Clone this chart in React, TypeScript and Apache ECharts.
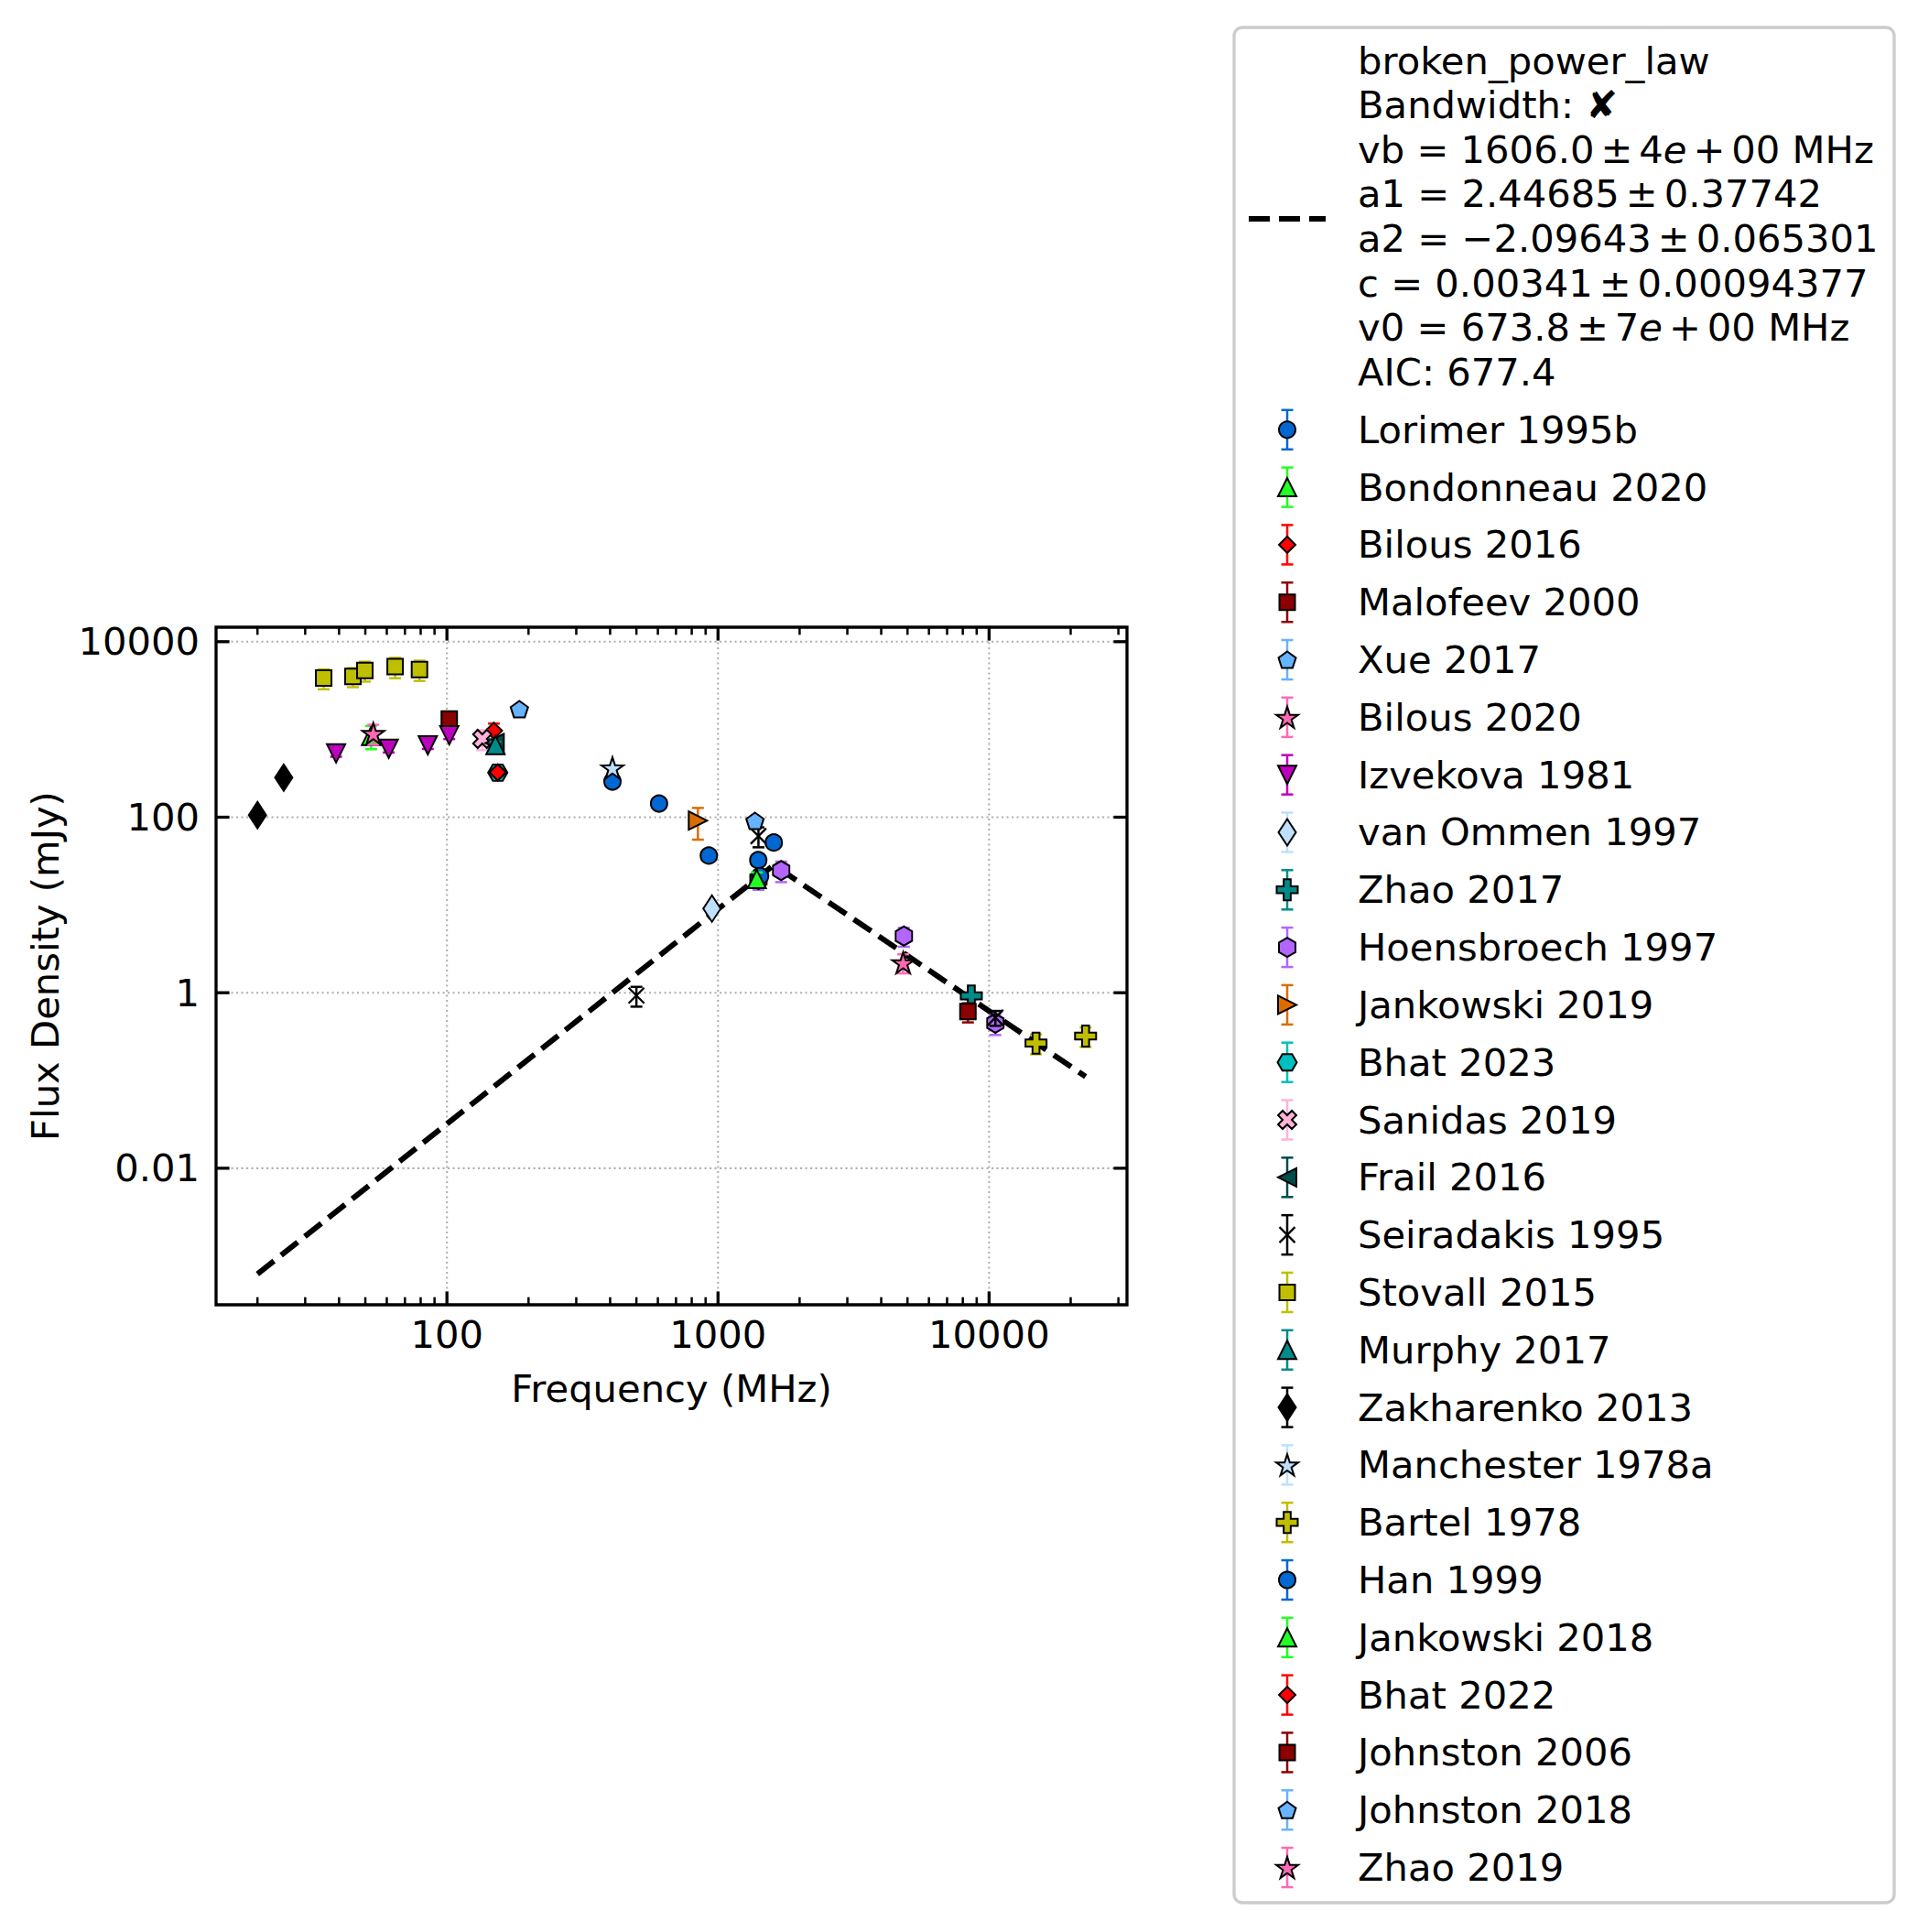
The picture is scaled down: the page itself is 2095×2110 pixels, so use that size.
import React, { useEffect, useRef } from 'react';
import * as echarts from 'echarts';

const FONT = '"DejaVu Sans", "Liberation Sans", sans-serif';
const FS = 41.7;
const W = 2095;
const H = 2110;

// Axis extents (log-space, 5% padding around the plotted data)
const X_MIN = 14.07;
const X_MAX = 32270;
const Y_MIN = 2.78e-4;
const Y_MAX = 14620;

// Tick positions and labels
const xMajorTicks = [100, 1000, 10000];
const xTickLabels = ['100', '1000', '10000'];
const xMinorTicks = [
  20, 30, 40, 50, 60, 70, 80, 90,
  200, 300, 400, 500, 600, 700, 800, 900,
  2000, 3000, 4000, 5000, 6000, 7000, 8000, 9000,
  20000, 30000,
];
const yMajorTicks = [0.01, 1, 100, 10000];
const yTickLabels = ['0.01', '1', '100', '10000'];

// Broken power-law fit: start, break frequency, end (MHz, mJy)
const fitFreq = [20, 1606, 22700];
const fitFlux = [6.24e-4, 28.56, 0.1108];

// narrow spacing around binary operators, as in typeset math
const OP = '\u2006';
const fitLegendLines = [
  'broken_power_law',
  'Bandwidth: \u2718',
  `vb = 1606.0${OP}\u00b1${OP}4{i|e}${OP}+${OP}00 MHz`,
  `a1 = 2.44685${OP}\u00b1${OP}0.37742`,
  `a2 = \u22122.09643${OP}\u00b1${OP}0.065301`,
  `c = 0.00341${OP}\u00b1${OP}0.00094377`,
  `v0 = 673.8${OP}\u00b1${OP}7{i|e}${OP}+${OP}00 MHz`,
  'AIC: 677.4',
];

// Measurements: [frequency MHz, flux density mJy, uncertainty mJy]
const lorimer1995b = [[408, 255, 15], [606, 143, 8], [925, 36.5, 2.5], [1408, 32.4, 2], [1606, 51.4, 3]];
const bondonneau2020 = [[52.5, 845, 250]];
const bilous2016 = [[149, 966, 200]];
const malofeev2000 = [[102, 1312, 150]];
const xue2017 = [[185, 1706, 120]];
const bilous2020 = [[53.5, 900, 230]];
const izvekova1981 = [[39, 533, 45], [61, 601, 55], [85, 659, 60], [102, 857, 80]];
const vanOmmen1997 = [[950, 9.1, 1.0]];
const zhao2017 = [[8600, 0.92, 0.08]];
const hoensbroech1997 = [[1410, 19.5, 4.6], [1710, 24.7, 6.5], [4850, 4.42, 1.08], [10550, 0.45, 0.12]];
const jankowski2019 = [[843, 91.5, 36]];
const bhat2023 = [[154, 322, 25]];
const sanidas2019 = [[135, 780, 200]];
const frail2016 = [[150, 700, 70]];
const seiradakis1995 = [[500, 0.93, 0.236], [1410, 61, 15.6], [10550, 0.52, 0.1]];
const stovall2015 = [[35.1, 3855, 985], [45, 4018, 985], [49.8, 4711, 1200], [64.4, 5188, 1350], [79.2, 4822, 1250]];
const murphy2017 = [[151, 665, 60]];
const zakharenko2013 = [[20, 105.7, 10], [25, 282, 28]];
const manchester1978a = [[408, 365, 30]];
const bartel1978 = [[14900, 0.267, 0.068], [22700, 0.321, 0.08]];
const han1999 = [[1430, 21.3, 2]];
const jankowski2018 = [[1390, 19.7, 3.8]];
const bhat2022 = [[154, 324, 30]];
const johnston2006 = [[8356, 0.609, 0.15]];
const johnston2018 = [[1369, 91, 6]];
const zhao2019 = [[4820, 2.2, 0.54]];

const datasets = [
  { name: 'Lorimer 1995b', points: lorimer1995b, marker: 'circle', color: '#0068d0' },
  { name: 'Bondonneau 2020', points: bondonneau2020, marker: 'triangleUp', color: '#22ff22' },
  { name: 'Bilous 2016', points: bilous2016, marker: 'diamond', color: '#ff0000' },
  { name: 'Malofeev 2000', points: malofeev2000, marker: 'square', color: '#8b0000' },
  { name: 'Xue 2017', points: xue2017, marker: 'pentagon', color: '#66b3ff' },
  { name: 'Bilous 2020', points: bilous2020, marker: 'star', color: '#ff69b4' },
  { name: 'Izvekova 1981', points: izvekova1981, marker: 'triangleDown', color: '#bf00bf' },
  { name: 'van Ommen 1997', points: vanOmmen1997, marker: 'thinDiamond', color: '#bfdfff' },
  { name: 'Zhao 2017', points: zhao2017, marker: 'plus', color: '#008b8b' },
  { name: 'Hoensbroech 1997', points: hoensbroech1997, marker: 'hexagon', color: '#b266ff' },
  { name: 'Jankowski 2019', points: jankowski2019, marker: 'triangleRight', color: '#db6d00' },
  { name: 'Bhat 2023', points: bhat2023, marker: 'hexagon2', color: '#00bfbf' },
  { name: 'Sanidas 2019', points: sanidas2019, marker: 'xFilled', color: '#ffb3d9' },
  { name: 'Frail 2016', points: frail2016, marker: 'triangleLeft', color: '#004c4c' },
  { name: 'Seiradakis 1995', points: seiradakis1995, marker: 'x', color: '#000000' },
  { name: 'Stovall 2015', points: stovall2015, marker: 'square', color: '#bfbf00' },
  { name: 'Murphy 2017', points: murphy2017, marker: 'triangleUp', color: '#008b8b' },
  { name: 'Zakharenko 2013', points: zakharenko2013, marker: 'thinDiamond', color: '#000000' },
  { name: 'Manchester 1978a', points: manchester1978a, marker: 'star', color: '#bfdfff' },
  { name: 'Bartel 1978', points: bartel1978, marker: 'plus', color: '#bfbf00' },
  { name: 'Han 1999', points: han1999, marker: 'circle', color: '#0068d0' },
  { name: 'Jankowski 2018', points: jankowski2018, marker: 'triangleUp', color: '#22ff22' },
  { name: 'Bhat 2022', points: bhat2022, marker: 'diamond', color: '#ff0000' },
  { name: 'Johnston 2006', points: johnston2006, marker: 'square', color: '#8b0000' },
  { name: 'Johnston 2018', points: johnston2018, marker: 'pentagon', color: '#66b3ff' },
  { name: 'Zhao 2019', points: zhao2019, marker: 'star', color: '#ff69b4' },
];

// Marker outlines (any scale; normalised to their bounding box)
const SHAPES: Record<string, number[][]> = {
  triangleUp: [[0, -1], [1, 1], [-1, 1]],
  triangleDown: [[-1, -1], [1, -1], [0, 1]],
  triangleRight: [[-1, -1], [1, 0], [-1, 1]],
  triangleLeft: [[1, -1], [-1, 0], [1, 1]],
  diamond: [[0, -1], [1, 0], [0, 1], [-1, 0]],
  thinDiamond: [[0, -1], [1, 0], [0, 1], [-1, 0]],
  square: [[-1, -1], [1, -1], [1, 1], [-1, 1]],
  pentagon: [[0, -1], [0.951, -0.309], [0.588, 0.809], [-0.588, 0.809], [-0.951, -0.309]],
  star: [
    [0, -1], [0.2245, -0.309], [0.951, -0.309], [0.3633, 0.118], [0.588, 0.809],
    [0, 0.382], [-0.588, 0.809], [-0.3633, 0.118], [-0.951, -0.309], [-0.2245, -0.309],
  ],
  hexagon: [[0, -1], [0.866, -0.5], [0.866, 0.5], [0, 1], [-0.866, 0.5], [-0.866, -0.5]],
  hexagon2: [[-1, 0], [-0.5, -0.866], [0.5, -0.866], [1, 0], [0.5, 0.866], [-0.5, 0.866]],
  plus: [[-1, -3], [1, -3], [1, -1], [3, -1], [3, 1], [1, 1], [1, 3], [-1, 3], [-1, 1], [-3, 1], [-3, -1], [-1, -1]],
  xFilled: [[-1, -2], [0, -1], [1, -2], [2, -1], [1, 0], [2, 1], [1, 2], [0, 1], [-1, 2], [-2, 1], [-1, 0], [-2, -1]],
};

const SIZES: Record<string, [number, number]> = {
  circle: [18, 18],
  triangleUp: [20, 20],
  triangleDown: [20, 20],
  triangleRight: [20, 20],
  triangleLeft: [20, 20],
  diamond: [18, 18],
  thinDiamond: [19, 29],
  square: [17, 17],
  pentagon: [19, 18],
  star: [24, 23],
  hexagon: [18, 21],
  hexagon2: [21, 18],
  plus: [23, 23],
  xFilled: [20, 20],
  x: [17, 17],
};

function normPoints(key: string): number[][] {
  const pts = SHAPES[key];
  const xs = pts.map((p) => p[0]);
  const ys = pts.map((p) => p[1]);
  const x0 = Math.min(...xs), x1 = Math.max(...xs);
  const y0 = Math.min(...ys), y1 = Math.max(...ys);
  return pts.map((p) => [(p[0] - x0) / (x1 - x0) - 0.5, (p[1] - y0) / (y1 - y0) - 0.5]);
}

function symbolFor(key: string): string {
  if (key === 'circle') return 'circle';
  if (key === 'x') return 'path://M0,0 L100,100 M100,0 L0,100';
  const pts = normPoints(key);
  return 'path://M' + pts.map((p) => `${((p[0] + 0.5) * 100).toFixed(2)},${((p[1] + 0.5) * 100).toFixed(2)}`).join(' L') + ' Z';
}

function legendMarker(key: string, color: string, cx: number, cy: number): any {
  const [w, h] = SIZES[key];
  const st = { fill: color, stroke: '#000', lineWidth: 2 };
  if (key === 'circle') return { type: 'circle', shape: { cx, cy, r: w / 2 }, style: st };
  if (key === 'x') {
    const s = { stroke: '#000', lineWidth: 2.3 };
    return {
      type: 'group',
      children: [
        { type: 'line', shape: { x1: cx - w / 2, y1: cy - h / 2, x2: cx + w / 2, y2: cy + h / 2 }, style: s },
        { type: 'line', shape: { x1: cx + w / 2, y1: cy - h / 2, x2: cx - w / 2, y2: cy + h / 2 }, style: s },
      ],
    };
  }
  return {
    type: 'polygon',
    shape: { points: normPoints(key).map((p) => [cx + p[0] * w, cy + p[1] * h]) },
    style: st,
  };
}

const CAP = 6.5;
const EB_WIDTH = 2.5;

function errorBarRenderer(color: string) {
  return (params: any, api: any) => {
    const f = api.value(0);
    const s = api.value(1);
    const e = api.value(2);
    const hi = api.coord([f, s + e]);
    const lo = api.coord([f, Math.max(s - e, s * 0.02)]);
    const st = { stroke: color, lineWidth: EB_WIDTH };
    return {
      type: 'group',
      children: [
        { type: 'line', shape: { x1: hi[0], y1: hi[1], x2: lo[0], y2: lo[1] }, style: st },
        { type: 'line', shape: { x1: hi[0] - CAP, y1: hi[1], x2: hi[0] + CAP, y2: hi[1] }, style: st },
        { type: 'line', shape: { x1: lo[0] - CAP, y1: lo[1], x2: lo[0] + CAP, y2: lo[1] }, style: st },
      ],
    };
  };
}

const MAJOR_LEN = 14.6;
const MINOR_LEN = 8.3;

function xTickRenderer(params: any, api: any) {
  const cs = params.coordSys;
  const px = api.coord([api.value(0), api.value(1)])[0];
  const major = api.value(2) === 1;
  const len = major ? MAJOR_LEN : MINOR_LEN;
  const st = { stroke: '#000', lineWidth: major ? 3.3 : 2.5 };
  const bottom = cs.y + cs.height;
  return {
    type: 'group',
    children: [
      { type: 'line', shape: { x1: px, y1: bottom, x2: px, y2: bottom - len }, style: st },
      { type: 'line', shape: { x1: px, y1: cs.y, x2: px, y2: cs.y + len }, style: st },
    ],
  };
}

function yTickRenderer(params: any, api: any) {
  const cs = params.coordSys;
  const py = api.coord([api.value(0), api.value(1)])[1];
  const st = { stroke: '#000', lineWidth: 3.3 };
  const right = cs.x + cs.width;
  return {
    type: 'group',
    children: [
      { type: 'line', shape: { x1: cs.x, y1: py, x2: cs.x + MAJOR_LEN, y2: py }, style: st },
      { type: 'line', shape: { x1: right, y1: py, x2: right - MAJOR_LEN, y2: py }, style: st },
    ],
  };
}

const GRID_STYLE = { stroke: '#b0b0b0', lineWidth: 2.1, lineDash: [2.1, 3.4] };

function xGridRenderer(params: any, api: any) {
  const cs = params.coordSys;
  const px = api.coord([api.value(0), api.value(1)])[0];
  return { type: 'line', shape: { x1: px, y1: cs.y, x2: px, y2: cs.y + cs.height }, style: GRID_STYLE };
}

function yGridRenderer(params: any, api: any) {
  const cs = params.coordSys;
  const py = api.coord([api.value(0), api.value(1)])[1];
  return { type: 'line', shape: { x1: cs.x, y1: py, x2: cs.x + cs.width, y2: py }, style: GRID_STYLE };
}

function labelFor(v: number, ticks: number[], labels: string[]): string {
  const i = ticks.findIndex((t) => Math.abs(Math.log10(t) - Math.log10(v)) < 1e-6);
  return i >= 0 ? labels[i] : '';
}

function buildLegend(): any[] {
  const left = 1348;
  const top = 30;
  const handleX = 1406;
  const textX = 1483;
  const elements: any[] = [
    {
      type: 'rect',
      shape: { x: left, y: top, width: 721, height: 2048, r: 9 },
      style: { fill: '#ffffff', stroke: '#cccccc', lineWidth: 3.3 },
    },
    {
      type: 'line',
      shape: { x1: 1364, y1: 239, x2: 1448, y2: 239 },
      style: { stroke: '#000', lineWidth: 6, lineDash: [23, 10] },
    },
  ];
  fitLegendLines.forEach((line, k) => {
    elements.push({
      type: 'text',
      x: textX,
      y: 66 + 48.6 * k,
      style: {
        text: line,
        fill: '#000',
        font: `${FS}px ${FONT}`,
        align: 'left',
        verticalAlign: 'middle',
        rich: {
          i: { fontStyle: 'italic', fontSize: FS, fontFamily: FONT, fill: '#000' },
        },
      },
    });
  });
  datasets.forEach((d, k) => {
    const cy = 469.3 + 62.81 * k;
    const st = { stroke: d.color, lineWidth: EB_WIDTH };
    elements.push(
      { type: 'line', shape: { x1: handleX, y1: cy - 21.5, x2: handleX, y2: cy + 21.5 }, style: st },
      { type: 'line', shape: { x1: handleX - CAP, y1: cy - 21.5, x2: handleX + CAP, y2: cy - 21.5 }, style: st },
      { type: 'line', shape: { x1: handleX - CAP, y1: cy + 21.5, x2: handleX + CAP, y2: cy + 21.5 }, style: st },
      legendMarker(d.marker, d.color, handleX, cy),
      {
        type: 'text',
        x: textX,
        y: cy,
        style: { text: d.name, fill: '#000', font: `${FS}px ${FONT}`, align: 'left', verticalAlign: 'middle' },
      },
    );
  });
  return elements;
}

function buildOption(): any {
  const series: any[] = [
    {
      type: 'custom',
      name: 'x grid',
      z: 1,
      silent: true,
      encode: { x: 0, y: 1 },
      data: xMajorTicks.map((v) => [v, Y_MIN]),
      renderItem: xGridRenderer,
    },
    {
      type: 'custom',
      name: 'y grid',
      z: 1,
      silent: true,
      encode: { x: 0, y: 1 },
      data: yMajorTicks.map((v) => [X_MIN, v]),
      renderItem: yGridRenderer,
    },
    {
      type: 'line',
      name: 'broken_power_law',
      z: 5,
      silent: true,
      symbol: 'none',
      showSymbol: false,
      data: fitFreq.map((f, i) => [f, fitFlux[i]]),
      lineStyle: { color: '#000', width: 6, type: [23, 10] },
    },
  ];

  datasets.forEach((d, i) => {
    series.push({
      type: 'custom',
      name: d.name + ' errors',
      z: 10 + 2 * i,
      silent: true,
      encode: { x: 0, y: 1 },
      data: d.points,
      renderItem: errorBarRenderer(d.color),
    });
    series.push({
      type: 'scatter',
      name: d.name,
      z: 11 + 2 * i,
      silent: true,
      data: d.points.map((p) => [p[0], p[1]]),
      symbol: symbolFor(d.marker),
      symbolSize: SIZES[d.marker],
      itemStyle: {
        color: d.marker === 'x' ? 'rgba(0,0,0,0)' : d.color,
        borderColor: '#000',
        borderWidth: d.marker === 'x' ? 2.3 : 2,
        opacity: 1,
      },
      emphasis: { disabled: true },
    });
  });

  series.push(
    {
      type: 'custom',
      name: 'x ticks',
      z: 200,
      silent: true,
      encode: { x: 0, y: 1 },
      data: xMajorTicks.map((v) => [v, Y_MIN, 1]).concat(xMinorTicks.map((v) => [v, Y_MIN, 0])),
      renderItem: xTickRenderer,
    },
    {
      type: 'custom',
      name: 'y ticks',
      z: 200,
      silent: true,
      encode: { x: 0, y: 1 },
      data: yMajorTicks.map((v) => [X_MIN, v]),
      renderItem: yTickRenderer,
    },
  );

  return {
    animation: false,
    backgroundColor: '#ffffff',
    textStyle: { fontFamily: FONT },
    grid: {
      left: 236,
      top: 685,
      width: 995,
      height: 740,
      show: true,
      borderColor: '#000',
      borderWidth: 3.3,
      backgroundColor: 'rgba(0,0,0,0)',
      containLabel: false,
      outerBoundsMode: 'none',
    },
    xAxis: {
      type: 'log',
      logBase: 10,
      min: X_MIN,
      max: X_MAX,
      axisLine: { show: false },
      axisTick: { show: false },
      splitLine: { show: false },
      minorTick: { show: false },
      axisLabel: {
        show: true,
        margin: 11,
        color: '#000',
        fontSize: FS,
        fontFamily: FONT,
        showMinLabel: false,
        showMaxLabel: false,
        formatter: (v: number) => labelFor(v, xMajorTicks, xTickLabels),
      },
      name: 'Frequency (MHz)',
      nameLocation: 'middle',
      nameGap: 70,
      nameTextStyle: { color: '#000', fontSize: FS, fontFamily: FONT },
    },
    yAxis: {
      type: 'log',
      logBase: 10,
      min: Y_MIN,
      max: Y_MAX,
      axisLine: { show: false },
      axisTick: { show: false },
      splitLine: { show: false },
      minorTick: { show: false },
      axisLabel: {
        show: true,
        margin: 18,
        color: '#000',
        fontSize: FS,
        fontFamily: FONT,
        showMinLabel: false,
        showMaxLabel: false,
        formatter: (v: number) => labelFor(v, yMajorTicks, yTickLabels),
      },
      name: 'Flux Density (mJy)',
      nameLocation: 'middle',
      nameGap: 166,
      nameTextStyle: { color: '#000', fontSize: FS, fontFamily: FONT },
    },
    graphic: { elements: buildLegend() },
    series,
  };
}

export default function App() {
  const ref = useRef<HTMLDivElement>(null);
  useEffect(() => {
    document.body.style.margin = '0';
    const el = ref.current;
    if (!el) return;
    const chart = echarts.init(el, null, { renderer: 'svg', width: W, height: H });
    chart.setOption(buildOption());
    return () => chart.dispose();
  }, []);
  return (
    <div
      ref={ref}
      style={{ position: 'absolute', left: 0, top: 0, width: W, height: H, background: '#ffffff' }}
    />
  );
}
